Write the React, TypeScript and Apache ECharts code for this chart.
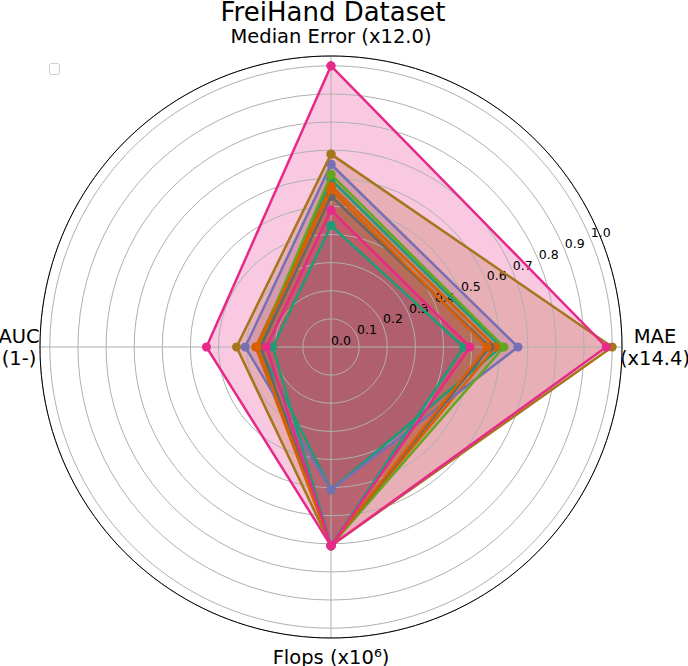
import React, { useEffect, useRef } from "react";
import * as echarts from "echarts";

const axisNames = ["Median Error (x12.0)", "MAE\n(x14.4)", "Flops (x10⁶)", "AUC\n(1-)"];
const axisAngles = [0, 90, 180, 270];

const seriesNames = ["M1", "M2", "M3", "M4", "M5", "M6", "M7", "M8", "M9", "M10"];
const seriesColors = ["#1b9e77", "#d95f02", "#7570b3", "#66a61e", "#666666", "#a6761d", "#d95f02", "#1b9e77", "#e7298a", "#e7298a"];
const medianError = [0.596, 0.573, 0.65, 0.614, 0.537, 0.686, 0.56, 0.432, 0.487, 1.0];
const mae = [0.605, 0.585, 0.665, 0.615, 0.565, 1.0, 0.555, 0.472, 0.494, 0.979];
const flops = [0.508, 0.707, 0.508, 0.707, 0.707, 0.707, 0.707, 0.707, 0.707, 0.707];
const auc = [0.255, 0.268, 0.305, 0.26, 0.25, 0.336, 0.262, 0.207, 0.23, 0.443];

const rMax = 1.035;
const FONT = "DejaVu Sans";

export default function App() {
  const ref = useRef<HTMLDivElement>(null);
  useEffect(() => {
    document.body.style.margin = "0";
    const chart = echarts.init(ref.current!, null, { renderer: "svg" });
    const cx = 331, cy = 347, R = 291;
    const build = (i: number) => {
      const vals = [medianError[i], mae[i], flops[i], auc[i]];
      const data = vals.map((v, k) => [v, axisAngles[k]]);
      data.push([vals[0], 360]);
      return data;
    };
    const fills = seriesNames.map((name, i) => ({
      name: name + " area",
      type: "line",
      coordinateSystem: "polar",
      polarIndex: 0,
      data: build(i),
      showSymbol: false,
      symbol: "none",
      lineStyle: { width: 0, opacity: 0 },
      areaStyle: { color: seriesColors[i], opacity: 0.25 },
      z: 1,
      silent: true,
    }));
    const lines = seriesNames.map((name, i) => ({
      name,
      type: "line",
      coordinateSystem: "polar",
      polarIndex: 0,
      data: build(i),
      symbol: "circle",
      symbolSize: 9,
      showSymbol: true,
      lineStyle: { width: 2.5, color: seriesColors[i] },
      itemStyle: { color: seriesColors[i] },
      z: 4 + i,
    }));
    chart.setOption({
      animation: false,
      title: {
        text: "FreiHand Dataset",
        left: 333,
        top: -1,
        textAlign: "center",
        padding: 0,
        textStyle: { fontFamily: FONT, fontSize: 26, fontWeight: "normal", color: "#000" },
      },
      polar: [
        { center: [cx, cy], radius: R },
        { center: [cx, cy], radius: R },
      ],
      angleAxis: [
        {
          polarIndex: 0,
          type: "value",
          min: 0,
          max: 360,
          interval: 90,
          startAngle: 90,
          clockwise: true,
          z: 2,
          axisLine: { show: true, lineStyle: { color: "#000", width: 1 } },
          axisTick: { show: false },
          axisLabel: { show: false },
          splitLine: { show: true, lineStyle: { color: "#b0b0b0", width: 1 } },
        },
        {
          polarIndex: 1,
          type: "value",
          min: 0,
          max: 360,
          startAngle: 22.5,
          show: false,
        },
      ],
      radiusAxis: [
        {
          polarIndex: 0,
          type: "value",
          min: 0,
          max: rMax,
          interval: 0.1,
          z: 2,
          axisLine: { show: false },
          axisTick: { show: false },
          axisLabel: { show: false },
          splitLine: { show: true, lineStyle: { color: "#b0b0b0", width: 1 } },
        },
        {
          polarIndex: 1,
          type: "value",
          min: 0,
          max: rMax,
          interval: 0.1,
          z: 2,
          axisLine: { show: false },
          axisTick: { show: false },
          splitLine: { show: false },
          axisLabel: {
            show: true,
            margin: 0,
            align: "left",
            verticalAlign: "bottom",
            showMaxLabel: false,
            fontFamily: FONT,
            fontSize: 12.5,
            color: "#000",
            formatter: (v: number) => {
              const k = Math.round(v * 10);
              return Math.abs(v * 10 - k) < 1e-6 ? (k / 10).toFixed(1) : "";
            },
          },
        },
      ],
      graphic: [
        {
          type: "text",
          x: cx,
          y: 36,
          style: { text: axisNames[0], fontFamily: FONT, fontSize: 19.5, fill: "#000", align: "center", verticalAlign: "middle" },
        },
        {
          type: "text",
          x: 655,
          y: cy,
          style: { text: axisNames[1], fontFamily: FONT, fontSize: 19.5, lineHeight: 22, fill: "#000", align: "center", verticalAlign: "middle" },
        },
        {
          type: "text",
          x: cx,
          y: 657,
          style: { text: axisNames[2], fontFamily: FONT, fontSize: 19.5, fill: "#000", align: "center", verticalAlign: "middle" },
        },
        {
          type: "text",
          x: 19,
          y: cy,
          style: { text: axisNames[3], fontFamily: FONT, fontSize: 19.5, lineHeight: 22, fill: "#000", align: "center", verticalAlign: "middle" },
        },
        {
          type: "rect",
          shape: { x: 49.5, y: 63.5, width: 10, height: 11, r: 2 },
          style: { fill: "#fff", stroke: "#cccccc", lineWidth: 1 },
        },
      ],
      series: [...fills, ...lines],
    });
    return () => chart.dispose();
  }, []);
  return <div ref={ref} style={{ width: 688, height: 666 }} />;
}
